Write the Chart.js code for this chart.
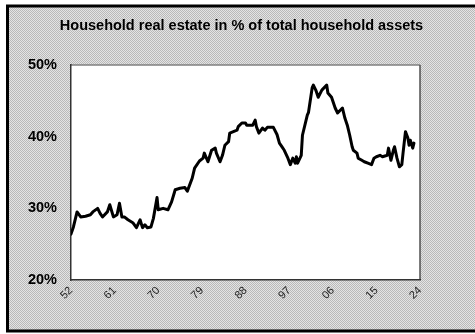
<!DOCTYPE html>
<html>
<head>
<meta charset="utf-8">
<script src="https://cdn.jsdelivr.net/npm/chart.js@4"></script>
<style>
  html, body { margin: 0; padding: 0; background: #ffffff; }
  #wrap { width: 475px; height: 334px; }
</style>
</head>
<body>
<div id="wrap"><canvas id="chart" width="475" height="334"></canvas></div>
<script>
// Household real estate as a share of total household assets (%)
const years = [
  1952.0, 1952.5, 1953.25, 1954.0, 1955.0, 1956.0, 1956.5, 1957.5, 1958.0, 1958.5,
  1959.5, 1960.0, 1960.75, 1961.5, 1962.0, 1962.5, 1963.0, 1963.75, 1964.75, 1965.5,
  1966.25, 1966.75, 1967.25, 1967.75, 1968.5, 1969.0, 1969.75, 1970.0, 1971.0, 1972.0,
  1972.75, 1973.5, 1974.5, 1975.5, 1976.0, 1977.0, 1977.5, 1978.5, 1979.25, 1979.5,
  1980.25, 1981.0, 1981.75, 1982.0, 1982.75, 1983.25, 1983.75, 1984.5, 1984.75, 1985.5,
  1986.25, 1986.5, 1987.25, 1988.0, 1988.25, 1989.0, 1989.5, 1990.0, 1990.25, 1990.75,
  1991.5, 1992.0, 1992.5, 1993.75, 1994.5, 1995.0, 1995.5, 1996.0, 1996.75, 1997.25,
  1997.75, 1998.25, 1998.5, 1998.75, 1999.5, 1999.75, 2000.75, 2001.0, 2001.75, 2002.0,
  2002.5, 2003.0, 2003.75, 2004.75, 2005.0, 2005.75, 2006.5, 2007.0, 2008.0, 2008.5,
  2009.0, 2009.5, 2010.0, 2010.25, 2011.0, 2011.25, 2012.0, 2012.5, 2013.25, 2014.0,
  2014.5, 2015.0, 2015.75, 2016.25, 2017.25, 2017.5, 2018.0, 2018.5, 2018.75, 2019.25,
  2019.75, 2020.25, 2020.5, 2021.0, 2021.5, 2021.75, 2022.0, 2022.5, 2022.75
];
const shares = [
  26.4, 27.4, 29.5, 28.8, 28.9, 29.1, 29.5, 30.0, 29.3, 28.8,
  29.5, 30.5, 28.8, 29.1, 30.7, 28.8, 28.8, 28.4, 28.0, 27.3,
  28.4, 27.3, 27.7, 27.3, 27.4, 28.6, 31.5, 29.8, 30.0, 29.8,
  30.9, 32.6, 32.8, 32.9, 32.4, 34.2, 35.6, 36.6, 37.0, 37.7,
  36.5, 38.1, 38.4, 37.7, 36.5, 37.4, 38.8, 39.3, 40.5, 40.7,
  40.9, 41.4, 41.9, 41.9, 41.6, 41.6, 41.6, 42.3, 41.4, 40.5,
  41.2, 40.9, 41.3, 41.3, 40.3, 39.1, 38.6, 38.1, 37.0, 36.1,
  37.0, 36.3, 37.2, 36.3, 37.4, 40.2, 43.0, 43.4, 46.8, 47.2,
  46.5, 45.5, 46.5, 47.2, 46.1, 45.5, 44.0, 43.3, 44.0, 42.6,
  41.6, 40.2, 38.6, 38.1, 37.7, 37.0, 36.7, 36.5, 36.3, 36.1,
  37.0, 37.2, 37.4, 37.2, 37.4, 38.4, 36.7, 38.1, 38.6, 37.0,
  35.8, 36.1, 37.7, 40.7, 39.8, 38.8, 39.5, 38.4, 39.1
];
const tickYears = [1952, 1961, 1970, 1979, 1988, 1997, 2006, 2015, 2024];
const tickLabels = ['52', '61', '70', '79', '88', '97', '06', '15', '24'];
const yTicks = [20, 30, 40, 50];
const titleText = 'Household real estate in % of total household assets';

// Dithered grey backdrop, white plot area and frame lines
const framePlugin = {
  id: 'frame',
  beforeDraw(chart) {
    const ctx = chart.ctx;
    const W = chart.width, H = chart.height;
    const tile = document.createElement('canvas');
    tile.width = 2; tile.height = 2;
    const t = tile.getContext('2d');
    t.fillStyle = '#e4e4e4'; t.fillRect(0, 0, 2, 2);
    t.fillStyle = '#b9b9b9'; t.fillRect(0, 0, 1, 1); t.fillRect(1, 1, 1, 1);
    ctx.save();
    ctx.fillStyle = '#ffffff';
    ctx.fillRect(0, 0, W, H);
    ctx.fillStyle = ctx.createPattern(tile, 'repeat');
    ctx.fillRect(7, 6, W - 7, 325);
    ctx.strokeStyle = '#000000';
    ctx.lineWidth = 3;
    ctx.strokeRect(7.5, 6, W + 10, 325);
    const a = chart.chartArea;
    ctx.fillStyle = '#ffffff';
    ctx.fillRect(a.left, a.top, a.right - a.left, a.bottom - a.top);
    ctx.lineWidth = 1.5;
    ctx.strokeStyle = '#808080';
    ctx.beginPath(); ctx.moveTo(a.left, a.top); ctx.lineTo(a.right, a.top); ctx.stroke();
    ctx.strokeStyle = '#505050';
    ctx.beginPath(); ctx.moveTo(a.right, a.top); ctx.lineTo(a.right, a.bottom); ctx.stroke();
    ctx.restore();
  }
};

new Chart(document.getElementById('chart'), {
  type: 'line',
  data: {
    datasets: [{
      data: years.map((y, i) => ({ x: y, y: shares[i] })),
      borderColor: '#000000',
      borderWidth: 3,
      pointRadius: 0,
      tension: 0,
      borderJoinStyle: 'round',
      borderCapStyle: 'round'
    }]
  },
  options: {
    responsive: false,
    animation: false,
    layout: { padding: { left: 8, right: 0, top: 0, bottom: 0 } },
    plugins: {
      legend: { display: false },
      tooltip: { enabled: false },
      title: {
        display: true,
        text: titleText,
        color: '#000000',
        font: { family: 'Liberation Sans, Arial, sans-serif', size: 14.5, weight: 'bold', lineHeight: 1.2 },
        padding: { top: 17, bottom: 30.6 }
      }
    },
    scales: {
      x: {
        type: 'linear',
        min: 1952,
        max: 2024,
        afterBuildTicks(scale) { scale.ticks = tickYears.map(v => ({ value: v })); },
        afterFit(scale) { scale.height = 54; },
        grid: { display: false, drawTicks: false },
        border: { display: true, color: '#333333', width: 1.5 },
        ticks: {
          autoSkip: false,
          minRotation: 45,
          maxRotation: 45,
          padding: 4,
          color: '#222222',
          font: { family: 'Liberation Sans, Arial, sans-serif', size: 11 },
          callback: (v) => tickLabels[tickYears.indexOf(v)]
        }
      },
      y: {
        min: 20,
        max: 50,
        afterBuildTicks(scale) { scale.ticks = yTicks.map(v => ({ value: v })); },
        afterFit(scale) { scale.width = 63; },
        grid: { display: false, drawTicks: false },
        border: { display: true, color: '#333333', width: 1.5 },
        ticks: {
          padding: 14,
          color: '#000000',
          font: { family: 'Liberation Sans, Arial, sans-serif', size: 14.5, weight: 'bold' },
          callback: (v) => v + '%'
        }
      },
      yRight: {
        position: 'right',
        display: true,
        afterFit(scale) { scale.width = 55; },
        grid: { display: false, drawTicks: false },
        border: { display: false },
        ticks: { display: false }
      }
    }
  },
  plugins: [framePlugin]
});
</script>
</body>
</html>
